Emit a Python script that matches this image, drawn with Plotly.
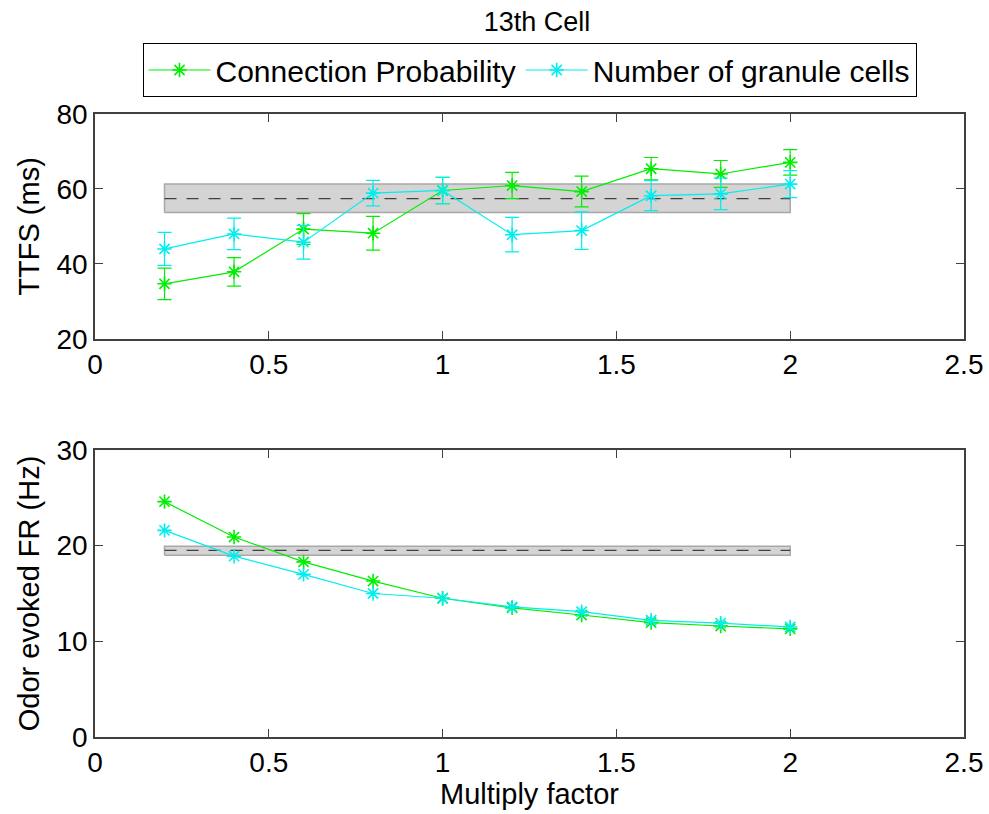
import plotly.graph_objects as go

x = [0.2, 0.4, 0.6, 0.8, 1.0, 1.2, 1.4, 1.6, 1.8, 2.0]

# TTFS (ms)
ttfs_conn = [34.7, 37.9, 49.3, 48.2, 59.6, 60.9, 59.3, 65.4, 64.0, 67.1]
ttfs_conn_err = [4.2, 3.8, 4.1, 4.5, 3.5, 3.5, 4.1, 3.0, 3.6, 3.4]
ttfs_gran = [44.0, 48.0, 45.8, 58.9, 59.6, 47.8, 48.9, 58.2, 58.7, 61.3]
ttfs_gran_err = [4.4, 4.2, 4.5, 3.4, 3.5, 4.6, 5.0, 4.0, 4.2, 3.6]

# Odor evoked FR (Hz)
fr_conn = [24.6, 20.9, 18.3, 16.3, 14.5, 13.5, 12.75, 11.95, 11.6, 11.3]
fr_gran = [21.6, 18.9, 17.0, 15.0, 14.5, 13.6, 13.1, 12.2, 11.9, 11.5]

# reference bands: x extent, and [mean, low, high]
band_x = [0.2, 2.0]
ttfs_ref = [57.4, 53.7, 61.3]
fr_ref = [19.5, 19.0, 19.95]

green = "#00ee00"
cyan = "#00eeee"
font_family = "Liberation Sans, Arial, Helvetica, sans-serif"

fig = go.Figure()

def add_band(ref, xa, ya):
    m, lo, hi = ref
    bx = [band_x[0], band_x[1], band_x[1], band_x[0], band_x[0]]
    by = [lo, lo, hi, hi, lo]
    fig.add_trace(go.Scatter(x=bx, y=by, fill="toself", fillcolor="#d4d4d4",
                             line=dict(color="#a8a8a8", width=1.5), mode="lines",
                             showlegend=False, hoverinfo="skip", xaxis=xa, yaxis=ya))
    fig.add_trace(go.Scatter(x=band_x, y=[m, m], mode="lines",
                             line=dict(color="#404040", width=1.3, dash="12px,10px"),
                             showlegend=False, hoverinfo="skip", xaxis=xa, yaxis=ya))

add_band(ttfs_ref, "x", "y")
add_band(fr_ref, "x2", "y2")

def marker(c):
    return dict(symbol="asterisk-open", size=12, color=c, line=dict(color=c, width=1.6))

fig.add_trace(go.Scatter(x=x, y=ttfs_conn, mode="lines+markers", name="Connection Probability",
                         line=dict(color=green, width=1.2), marker=marker(green),
                         error_y=dict(type="data", array=ttfs_conn_err, color=green, thickness=1.2, width=7),
                         xaxis="x", yaxis="y"))
fig.add_trace(go.Scatter(x=x, y=ttfs_gran, mode="lines+markers", name="Number of granule cells",
                         line=dict(color=cyan, width=1.2), marker=marker(cyan),
                         error_y=dict(type="data", array=ttfs_gran_err, color=cyan, thickness=1.2, width=7),
                         xaxis="x", yaxis="y"))
fig.add_trace(go.Scatter(x=x, y=fr_conn, mode="lines+markers", showlegend=False,
                         line=dict(color=green, width=1.2), marker=marker(green),
                         xaxis="x2", yaxis="y2"))
fig.add_trace(go.Scatter(x=x, y=fr_gran, mode="lines+markers", showlegend=False,
                         line=dict(color=cyan, width=1.2), marker=marker(cyan),
                         xaxis="x2", yaxis="y2"))

axis_common = dict(showgrid=False, zeroline=False, showline=True, linecolor="#404040",
                   linewidth=1.5, mirror="allticks", ticks="inside", ticklen=8, automargin=False,
                   tickcolor="#404040", tickfont=dict(size=28, color="black", family=font_family))

xticks = [0, 0.5, 1, 1.5, 2, 2.5]
xticktext = ["0", "0.5", "1", "1.5", "2", "2.5"]
title_font = dict(size=29, color="black", family=font_family)

fig.update_layout(
    width=989, height=814,
    margin=dict(l=95, r=25, t=114, b=77),
    paper_bgcolor="white", plot_bgcolor="white",
    font=dict(family=font_family, color="black"),
    title=dict(text="13th Cell", x=537 / 989, xanchor="center", y=1 - 22 / 814, yanchor="middle",
               font=dict(size=27, color="black", family=font_family)),
    xaxis=dict(domain=[0, 1], range=[0, 2.5], tickvals=xticks, ticktext=xticktext, anchor="y", **axis_common),
    yaxis=dict(domain=[0.639, 1], range=[20, 80], tickvals=[20, 40, 60, 80], anchor="x",
               title=dict(text="TTFS (ms)", font=title_font, standoff=8),
               **axis_common),
    xaxis2=dict(domain=[0, 1], range=[0, 2.5], tickvals=xticks, ticktext=xticktext, anchor="y2",
                title=dict(text="Multiply factor", font=title_font, standoff=0),
                **axis_common),
    yaxis2=dict(domain=[0, 0.4607], range=[0, 30], tickvals=[0, 10, 20, 30], anchor="x2",
                title=dict(text="Odor evoked FR (Hz)", font=title_font, standoff=8),
                **axis_common),
    legend=dict(orientation="h", x=0.5, xanchor="center", y=(737 - 43) / 623, yanchor="top",
                bordercolor="black", borderwidth=1, bgcolor="white",
                font=dict(size=30, color="black", family=font_family),
                itemwidth=62, tracegroupgap=0),
    showlegend=True,
)

fig.write_html("out.html")
